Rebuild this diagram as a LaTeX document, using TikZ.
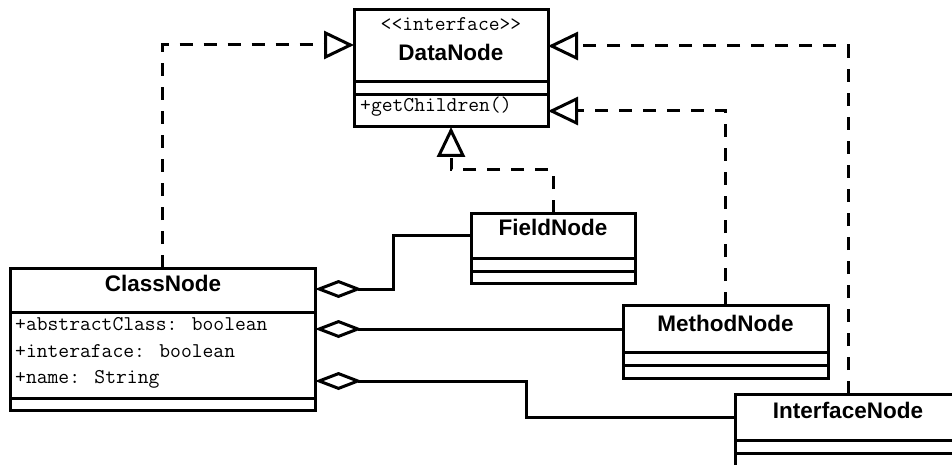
\documentclass[tikz,border=0pt]{standalone}
\usepackage{fontspec}
\setmainfont{Liberation Sans}
\usetikzlibrary{arrows.meta}

\begin{document}
\begin{tikzpicture}[x=1pt,y=-1pt,
  umlbox/.style={draw, line width=3pt, anchor=north west, inner sep=0pt, outer sep=0pt},
  sepline/.style={line width=3pt},
  classname/.style={font=\fontsize{22.5}{24}\selectfont\bfseries, anchor=base, inner sep=0pt},
  member/.style={font=\ttfamily\fontsize{21}{22}\selectfont, anchor=base west, inner sep=0pt},
  stereo/.style={font=\ttfamily\fontsize{21}{22}\selectfont, anchor=base, inner sep=0pt},
  realize/.style={line width=3pt, dash pattern=on 13pt off 11pt, miter limit=4,
    -{Triangle[open, length=30pt, width=28pt]}},
  aggr/.style={line width=3pt, {Diamond[open, length=47pt, width=18pt]}-},
]
\useasboundingbox (0,0) rectangle (952,465);
\clip (0,0) rectangle (952,465);
\fill[white] (0,0) rectangle (952,465);

% DataNode interface
\node[umlbox, minimum width=194pt, minimum height=117pt] (data) at (354,10) {};
\draw[sepline] (data.west |- 0,82) -- (data.east |- 0,82);
\draw[sepline] (data.west |- 0,95) -- (data.east |- 0,95);
\node[stereo] (dataStereo) at (451,31) {<<interface>>};
\node[classname] (dataName) at (451,61) {DataNode};
\node[member] (dataOp) at (360,112) {+getChildren()};

% ClassNode
\node[umlbox, minimum width=305pt, minimum height=142pt] (cls) at (10,268) {};
\draw[sepline] (cls.west |- 0,312) -- (cls.east |- 0,312);
\draw[sepline] (cls.west |- 0,398) -- (cls.east |- 0,398);
\node[classname] (clsName) at (163,291) {ClassNode};
\node[member] (clsA1) at (15,330) {+abstractClass: boolean};
\node[member] (clsA2) at (15,357) {+interaface: boolean};
\node[member] (clsA3) at (15,383) {+name: String};

% FieldNode
\node[umlbox, minimum width=164pt, minimum height=70pt] (field) at (471,213) {};
\draw[sepline] (field.west |- 0,258) -- (field.east |- 0,258);
\draw[sepline] (field.west |- 0,271) -- (field.east |- 0,271);
\node[classname] (fieldName) at (553,235) {FieldNode};

% MethodNode
\node[umlbox, minimum width=205pt, minimum height=73pt] (method) at (623,305) {};
\draw[sepline] (method.west |- 0,352) -- (method.east |- 0,352);
\draw[sepline] (method.west |- 0,365) -- (method.east |- 0,365);
\node[classname] (methodName) at (725.5,331) {MethodNode};

% InterfaceNode
\node[umlbox, minimum width=226pt, minimum height=85pt] (iface) at (735,394) {};
\draw[sepline] (iface.west |- 0,440) -- (iface.east |- 0,440);
\draw[sepline] (iface.west |- 0,453) -- (iface.east |- 0,453);
\node[classname] (ifaceName) at (848,418) {InterfaceNode};

% realizations of DataNode
\draw[realize] (cls.north) |- (data.west |- 0,45);
\draw[realize] (field.north) -- ++(0,-43) -| (data.south);
\draw[realize] (method.north) |- (data.east |- 0,111);
\draw[realize] (iface.north) |- (data.east |- 0,46);

% aggregations held by ClassNode
\draw[aggr] (cls.east |- 0,289) -- ++(78,0) |- (field.west |- 0,235);
\draw[aggr] (cls.east |- 0,329) -- (method.west |- 0,329);
\draw[aggr] (cls.east |- 0,381) -- ++(211,0) |- (iface.west |- 0,417);
\end{tikzpicture}
\end{document}
